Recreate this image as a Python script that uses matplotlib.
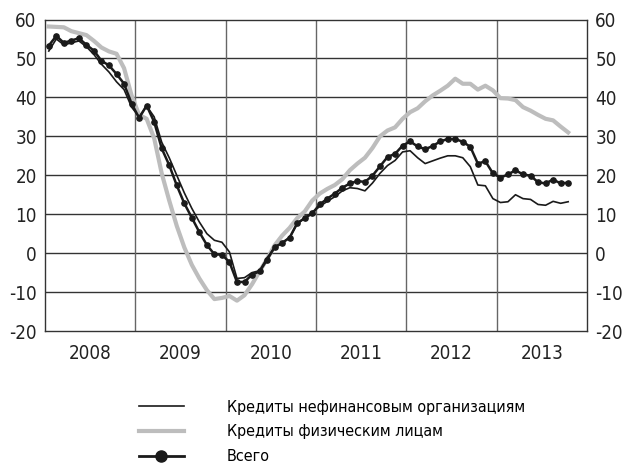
import numpy as np
import matplotlib
matplotlib.use('Agg')
import matplotlib.pyplot as plt
from matplotlib.lines import Line2D

plt.rcParams['font.family'] = ['DejaVu Sans']
plt.rcParams['font.stretch'] = 'condensed'
plt.rcParams['axes.unicode_minus'] = False

# monthly values, Jan 2008 - Oct 2013 (% y/y)
years = ['2008', '2009', '2010', '2011', '2012', '2013']

nonfin = [51.9, 55.0, 53.5, 54.0, 54.5, 53.0, 51.0, 48.5, 46.5, 44.0, 42.0, 37.5,
          35.0, 37.8, 35.0, 28.5, 24.5, 20.0, 15.5, 11.5, 8.0, 5.0, 3.3, 2.8,
          0.3, -6.5, -6.3, -5.0, -4.5, -1.2, 1.5, 2.7, 4.0, 7.5, 9.0, 10.5,
          12.0, 13.3, 14.5, 16.0, 16.8, 16.6, 16.0, 18.0, 20.5, 22.5, 23.8, 26.0,
          26.3, 24.5, 23.0, 23.7, 24.4, 25.0, 25.0, 24.5, 22.2, 17.5, 17.3, 14.0,
          13.0, 13.2, 15.0, 14.0, 13.8, 12.5, 12.3, 13.3, 12.8, 13.2]

persons = [58.2, 58.1, 58.0, 57.0, 56.5, 56.0, 54.5, 52.8, 51.8, 51.2, 47.5, 40.5,
           35.5, 34.5, 29.5, 20.5, 13.5, 7.0, 1.5, -3.0, -6.5, -9.5, -11.8, -11.5,
           -11.0, -12.2, -10.8, -8.0, -4.7, -1.5, 2.0, 4.5, 6.5, 9.0, 10.7, 13.5,
           15.3, 16.5, 17.5, 19.0, 21.3, 23.0, 24.5, 27.0, 30.0, 31.5, 32.3, 34.5,
           36.2, 37.2, 39.0, 40.5, 41.7, 43.0, 44.8, 43.5, 43.5, 42.0, 43.0, 41.8,
           39.8, 39.7, 39.3, 37.5, 36.6, 35.5, 34.5, 34.1, 32.5, 31.0]

total = [53.3, 55.8, 54.0, 54.6, 55.2, 53.5, 52.0, 49.4, 48.2, 46.0, 43.5, 38.4,
         34.7, 37.9, 33.7, 26.9, 22.6, 17.4, 12.8, 9.1, 5.4, 2.1, -0.3, -0.4,
         -2.3, -7.4, -7.4, -5.5, -4.7, -1.7, 1.5, 2.6, 4.0, 7.7, 9.0, 10.2,
         12.5, 14.0, 15.3, 16.8, 17.9, 18.5, 18.3, 19.9, 22.3, 24.7, 25.5, 27.6,
         28.7, 27.4, 26.7, 27.5, 28.7, 29.3, 29.3, 28.6, 27.3, 23.0, 23.6, 20.5,
         19.4, 20.2, 21.3, 20.2, 19.9, 18.2, 17.9, 18.9, 17.9, 18.1]

labels = ['Кредиты нефинансовым организациям', 'Кредиты физическим лицам', 'Всего']

x = np.arange(len(total)) + 0.5

fig = plt.figure(figsize=(6.28, 4.69), dpi=100)
ax = fig.add_axes([0.0717, 0.2942, 0.8630, 0.6642])

ax.plot(x, nonfin, color='#1a1a1a', lw=1.2, zorder=3)
ax.plot(x, persons, color='#bdbdbd', lw=3.0, zorder=2)
ax.plot(x, total, color='#1a1a1a', lw=1.8, marker='o', ms=3.8, zorder=4)

ax.set_xlim(0, 72)
ax.set_ylim(-20, 60)
ax.set_yticks(range(-20, 61, 10))
ax.set_yticklabels([str(v) for v in range(-20, 61, 10)])
ax.set_xticks([6 + 12 * k for k in range(len(years))])
ax.set_xticklabels(years)
ax.tick_params(length=0, labelsize=13.5, colors='#222222')
ax.tick_params(axis='x', pad=9)
ax.tick_params(axis='y', labelright=True, pad=6)

for v in range(-10, 60, 10):
    ax.axhline(v, color='#333333', lw=1.0, zorder=1)
for k in range(1, 6):
    ax.axvline(12 * k, color='#666666', lw=1.0, zorder=1)
for s in ax.spines.values():
    s.set_color('#333333')
    s.set_linewidth(1.0)

handles = [Line2D([], [], color='#1a1a1a', lw=1.2),
           Line2D([], [], color='#bdbdbd', lw=3.0),
           Line2D([], [], color='#1a1a1a', lw=2.0, marker='o', ms=8)]
fig.legend(handles, labels, loc='upper left', bbox_to_anchor=(0.221, 0.148),
           frameon=False, fontsize=11.5, handlelength=2.8, handletextpad=2.7,
           labelspacing=0.62, borderpad=0, borderaxespad=0)

plt.savefig('out.png', dpi=100)
